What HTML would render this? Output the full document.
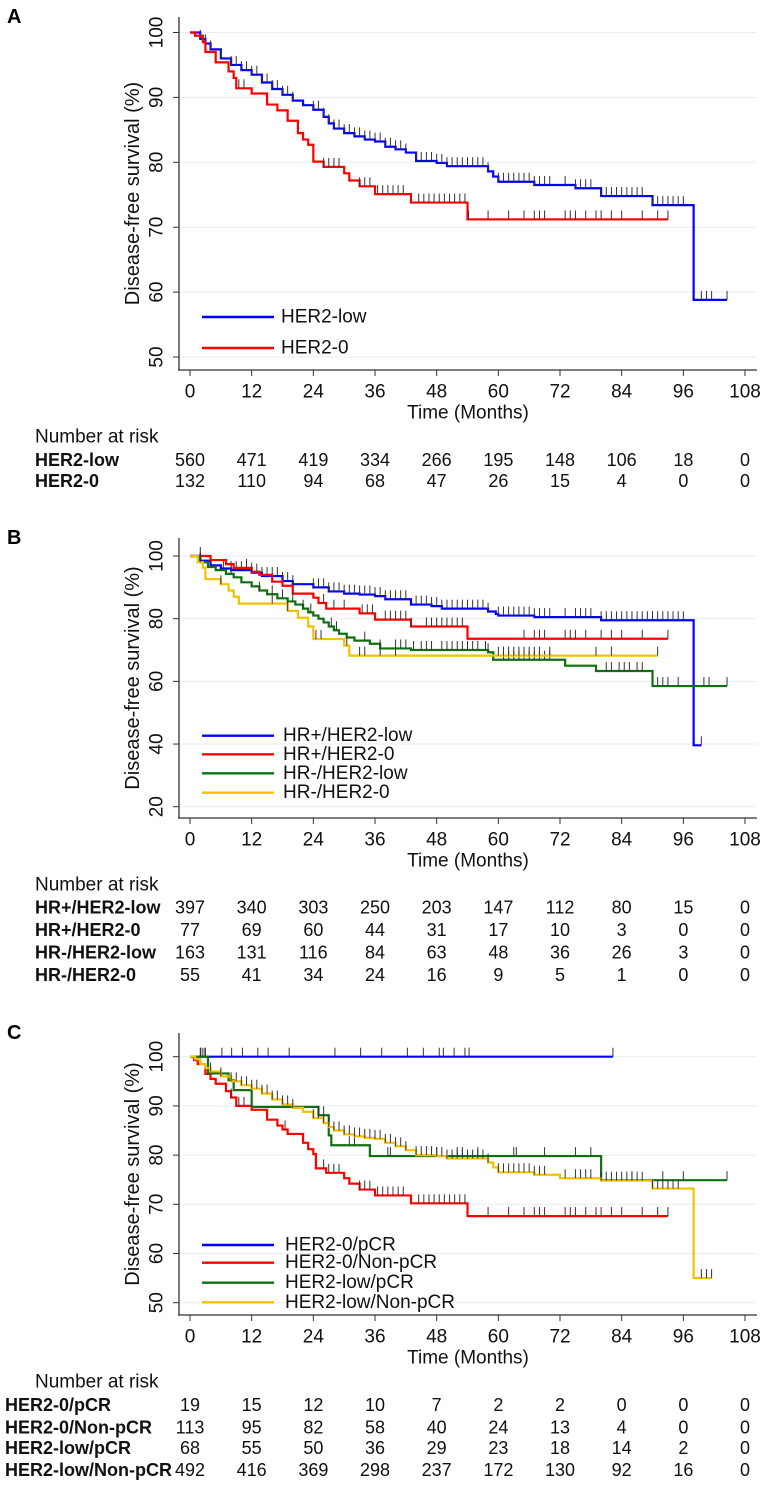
<!DOCTYPE html>
<html><head><meta charset="utf-8">
<style>
html,body{margin:0;padding:0;background:#fff;}
svg{display:block;font-family:"Liberation Sans",Arial,sans-serif;}
</style></head>
<body>
<svg id="fig" width="776" height="1488" viewBox="0 0 776 1488" xmlns="http://www.w3.org/2000/svg"></svg>
<script>
// ---------- Panel A data ----------
const aLowTimes=[0,2,3,4,6,8,10,12,14,16,18,20,22,24,26,27,28,30,32,34,36,38,40,42,44,48,50,58,59,60,67,75,80,90,98];
const aLowSurv=[100,99,98.3,97.4,96,95,94.2,93.5,92.3,91.3,90.4,89.5,88.8,88.1,87,86,85.2,84.5,84,83.5,83.2,82.4,82,81.5,80.2,79.9,79.4,78.6,77.8,77,76.5,76,74.8,73.4,58.8];
const aLowEnd=104.5;
const aLowCens=[2,3,4,6,8,9,10,11,12,13,14,15,16,17,18,19,20,24,25,26,27,28,29,30,31,32,33,34,35,36,37,38,39,40,41,42,44,45,46,47,48,49,50,51,52,53,54,55,56,57,58,60,61,62,63,64,65,66,67,68,69,70,73,75,76,77,78,80,81,82,83,84,85,86,87,88,90,91,92,93,94,95,96,99.5,100.5,101.5,104.5];
const aZeroTimes=[0,1,2.5,3,5,7.5,8.5,9,12,15,17,19,21,22,23,24,26,30,31,33,36,43,54];
const aZeroSurv=[100,99.5,98.5,97,95.4,94,93,91.4,90.6,88.9,88,86.4,84.5,83.5,82.7,80.1,79.3,78.3,77.2,76.3,75.1,73.8,71.2];
const aZeroEnd=93;
const aZeroCens=[9.5,10.5,26,27,28,29,33,34,35,36.5,37.5,38.5,39.5,40.5,41.5,44.5,45.5,46.5,47.5,48.5,49.5,50.5,51.5,52.5,53.5,54.2,58,62,65,67,68,69,73,74,75,77,79,80,82,84,88,91,93];
const aRiskLow=[560,471,419,334,266,195,148,106,18,0];
const aRiskZero=[132,110,94,68,47,26,15,4,0,0];

// ---------- Panel B data ----------
const bPlusLowTimes=[0,2,4,6,8,12,14,18,20,24,27,30,33,36,38,43,47,49,58,59.5,60,67,80,98];
const bPlusLowSurv=[100,98.5,97,96,95.5,94.7,93.6,92,91,90,88.7,88,87.7,87.2,86.2,84.5,84,83.2,82.3,81.5,81,80.5,79.5,39.6];
const bPlusLowEnd=99.5;
const bPlusLowCens=[2,8,9,10,11,13,14,15,16,17,18,19,20,24,25,26,27,28,29,30,31,32,33,34,35,36,37,38,39,40,41,42,44,45,46,47,48,49,50,51,52,53,54,55,56,57,58,60,61,62,63,64,65,66,67,68,69,70,73,75,76,77,78,80,81,82,83,84,85,86,87,88,89,90,91,92,93,94,95,96,99.5];
const bPlusZeroTimes=[0,4,7,8.5,12,13.5,16,18,20,24,25,26.5,33,36,43,54];
const bPlusZeroSurv=[100,98.7,97.4,96.2,95,94,91.8,90.5,88,86.7,85,83.2,81.7,79.7,77.5,73.6];
const bPlusZeroEnd=93;
const bPlusZeroCens=[2,11,12,26,28,30,33.5,34.5,35.5,38,39,40,41,42,43,46,47,48,49,50,51,52,53,65,67,68,69,73,74,75,77,80,82,84,88,93];
const bNegLowTimes=[0,2,3.5,5,7,8.5,10,12,13.5,15,17,19,20.5,22,23,24,25,26,27,28,29,30.5,32,35,37,43,58,59,73,79,90];
const bNegLowSurv=[100,98,96.5,95.5,94.3,93.2,91.6,90.3,89,87.8,86.5,85.5,84.5,83.2,82,81,80,78.8,77.5,76.3,75.2,74,73,72,70.5,70,69.3,66.9,65,63.3,58.5];
const bNegLowEnd=104.5;
const bNegLowCens=[2,6.5,8,13.5,16,18,20,22,23.5,27.5,28.5,34,37,40,41,42,43.5,45,46,47,49,50,51,52,53,54,55,56,57.5,58,61,62,63,64,65,66,67,68,69,70,81,82,83.5,84.5,85.5,87,88,91,92,93,95,100,101,104.5];
const bNegZeroTimes=[0,1.5,2.5,3,6,7.5,8.5,9.5,19,21,23,24,30,31];
const bNegZeroSurv=[100,98,96.3,92.6,91,89,87,84.8,82.5,80.3,77.5,73.5,71.4,68.2];
const bNegZeroEnd=91;
const bNegZeroCens=[2,6,16,19,24.5,25.5,30.5,33,34,37,40,60,61,62,63,64,65,66,67,68,70,79,82,91];
const bRisk1=[397,340,303,250,203,147,112,80,15,0];
const bRisk2=[77,69,60,44,31,17,10,3,0,0];
const bRisk3=[163,131,116,84,63,48,36,26,3,0];
const bRisk4=[55,41,34,24,16,9,5,1,0,0];

// ---------- Panel C data ----------
const c0pTimes=[0];
const c0pSurv=[100];
const c0pEnd=82.3;
const c0pCens=[2.1,2.9,6.2,8.1,10.2,13.2,15.2,19.3,28.2,33.2,37.3,42.3,45.4,48.5,49.3,51.4,53.5,54.3,82.3];
const c0nTimes=[0,0.8,1.5,3,4,5,7,8,9,12,15,17,18,19,22,23,24,24.5,26.5,30,31,33,36,43,54];
const c0nSurv=[100,99.3,98.5,96.5,95.5,94.5,93,91.7,90,89.2,87.2,86,85.2,84.3,82.5,81.2,80.2,77.3,76.4,75.3,74.2,73,71.8,70.2,67.6];
const c0nEnd=93;
const c0nCens=[8,9.5,10.5,18.5,26,27,28,29,33,34,35,36.5,37.5,38.5,39.5,40.5,41.5,44.5,45.5,46.5,47.5,48.5,49.5,50.5,51.5,52.5,53.5,58,62,65,67,68,69,73,74,75,77,79,80,82,84,88,91,93];
const clpTimes=[0,3.5,7.5,8.5,12,25,27,27.5,35,80];
const clpSurv=[100,96.6,95.2,93.2,89.8,88.1,84,82,79.8,74.9];
const clpEnd=104.5;
const clpCens=[2,2.5,3,25,26,31,32,38.5,39,47,48,52,53,56,63,63.5,69,75,78,86,92,96,104.5];
const clnTimes=[0,1,2,3,4,6,8,10,12,14,16,18,20,22,24,26,27,28,30,32,34,36,38,40,42,44,48,50,58,59,60,67,72,80,90,98];
const clnSurv=[100,99.5,98.5,97.7,97,96,95,94.2,93.5,92.5,91.3,90.3,89.6,88.8,87.5,86.5,85.7,85,84.2,83.8,83.5,83.3,82.5,81.8,81,80,79.8,79.3,78.5,77.5,76.5,76,75.3,74.8,73.2,55];
const clnEnd=101.5;
const clnCens=[4,6,8,9,10,11,12,13,14,15,16,17,18,19,20,24,25,26,27,28,29,30,31,32,33,34,35,36,37,38,39,40,41,42,44,45,46,47,48,49,50,51,52,53,54,55,56,57,58,60,61,62,63,64,65,66,67,68,69,73,75,76,77,78,80,81,82,83,84,85,86,87,88,90,91,92,93,94,95,99.5,100.5,101.5];
const cRisk1=[19,15,12,10,7,2,2,0,0,0];
const cRisk2=[113,95,82,58,40,24,13,4,0,0];
const cRisk3=[68,55,50,36,29,23,18,14,2,0];
const cRisk4=[492,416,369,298,237,172,130,92,16,0];

const xTicks=[0,12,24,36,48,60,72,84,96,108];

const NS='http://www.w3.org/2000/svg';
const svg=document.getElementById('fig');
function mk(tag,attrs,parent){const e=document.createElementNS(NS,tag);for(const k in attrs)e.setAttribute(k,attrs[k]);(parent||svg).appendChild(e);return e;}
const xScale=m=>190+m*5.139;
const BLUE='#0000ff',RED='#ff0000',GREEN='#107010',YEL='#f2c200';

function panel(cfg){
  const g=mk('g',{});
  
  
  const yS=v=>cfg.y100+(100-v)*cfg.pp;
  const L=mk('text',{x:7,y:cfg.top+6,'font-size':20,'font-weight':'bold',fill:'#000'},g);
  L.textContent=cfg.letter;
  
  
  cfg.yTicks.forEach(v=>{
    const y=yS(v);
    const gl=mk('line',{x1:179,x2:757,y1:y,y2:y,stroke:'#e6eef2','stroke-width':1},g);
    
    
    mk('line',{x1:173,x2:179,y1:y,y2:y,stroke:'#333','stroke-width':1},g);
    const t=mk('text',{x:0,y:0,'font-size':19,'text-anchor':'middle','dominant-baseline':'central',transform:`translate(157,${y}) rotate(-90)`,fill:'#111'},g);
    t.textContent=v;
    
    
  });
  const ya=mk('line',{x1:179,x2:179,y1:cfg.top,y2:cfg.bottom,stroke:'#333','stroke-width':1.3},g);
  
  
  const xa=mk('line',{x1:178,x2:757,y1:cfg.bottom,y2:cfg.bottom,stroke:'#333','stroke-width':1.3},g);
  
  
  xTicks.forEach(m=>{
    const x=xScale(m);
    mk('line',{x1:x,x2:x,y1:cfg.bottom,y2:cfg.bottom+6,stroke:'#333','stroke-width':1},g);
    const t=mk('text',{x:x,y:cfg.bottom+22,'font-size':19,'text-anchor':'middle','dominant-baseline':'central',fill:'#111'},g);
    t.textContent=m;
    
    
  });
  const yt=mk('text',{x:0,y:0,'font-size':20,'text-anchor':'middle','dominant-baseline':'central',transform:`translate(133,${(cfg.top+cfg.bottom)/2}) rotate(-90)`,fill:'#111'},g);
  yt.textContent='Disease-free survival (%)';
  
  
  const xt=mk('text',{x:468,y:cfg.bottom+43,'font-size':19,'text-anchor':'middle','dominant-baseline':'central',fill:'#111'},g);
  xt.textContent='Time (Months)';
  
  
  cfg.series.forEach(s=>{
    let d=`M${xScale(s.t[0])},${yS(s.s[0])}`;
    for(let i=1;i<s.t.length;i++){d+=`H${xScale(s.t[i])}V${yS(s.s[i])}`;}
    d+=`H${xScale(s.end)}`;
    const p=mk('path',{d:d,fill:'none',stroke:s.color,'stroke-width':2.2},g);
    
    
    s.c.forEach(ct=>{
      let v=s.s[0];
      for(let i=0;i<s.t.length;i++){if(s.t[i]<=ct)v=s.s[i];}
      const x=xScale(ct),y=yS(v);
      const m=mk('line',{x1:x,x2:x,y1:y,y2:y-9,stroke:'#333','stroke-width':1},g);
      
      
    });
  });
  cfg.series.forEach((s,i)=>{
    const y=cfg.legY[i];
    const ln=mk('line',{x1:202,x2:274,y1:y,y2:y,stroke:s.color,'stroke-width':2.4},g);
    
    
    const t=mk('text',{x:cfg.legX,y:y,'font-size':19,'dominant-baseline':'central',fill:'#111'},g);
    t.textContent=s.label;
    
    
  });
  const nb=cfg.bottom+67;
  const h=mk('text',{x:35,y:nb,'font-size':19,'dominant-baseline':'central',fill:'#111'},g);
  h.textContent='Number at risk';
  
  
  cfg.series.forEach((s,i)=>{
    const y=cfg.riskY[i];
    const lb=mk('text',{x:cfg.riskLabelX,y:y,'font-size':18,'font-weight':'bold','dominant-baseline':'central',fill:'#111'},g);
    lb.textContent=s.label;
    
    
    s.risk.forEach((n,j)=>{
      const t=mk('text',{x:xScale(xTicks[j]),y:y,'font-size':18,'text-anchor':'middle','dominant-baseline':'central',fill:'#111'},g);
      t.textContent=n;
      
      
    });
  });
}

panel({name:'panel-a',letter:'A',top:17,bottom:370,y100:32.5,pp:6.49,yTicks:[50,60,70,80,90,100],
  legX:281,legY:[317,348],riskLabelX:35,riskY:[460,481],
  series:[
    {id:'her2-low',label:'HER2-low',color:BLUE,t:aLowTimes,s:aLowSurv,end:aLowEnd,c:aLowCens,risk:aRiskLow},
    {id:'her2-0',label:'HER2-0',color:RED,t:aZeroTimes,s:aZeroSurv,end:aZeroEnd,c:aZeroCens,risk:aRiskZero}
  ]});
panel({name:'panel-b',letter:'B',top:538,bottom:818,y100:556,pp:3.134,yTicks:[20,40,60,80,100],
  legX:283,legY:[735.7,754.3,773.3,792.7],riskLabelX:35,riskY:[907.7,930,952.7,975],
  series:[
    {id:'hrpos-her2-low',label:'HR+/HER2-low',color:BLUE,t:bPlusLowTimes,s:bPlusLowSurv,end:bPlusLowEnd,c:bPlusLowCens,risk:bRisk1},
    {id:'hrpos-her2-0',label:'HR+/HER2-0',color:RED,t:bPlusZeroTimes,s:bPlusZeroSurv,end:bPlusZeroEnd,c:bPlusZeroCens,risk:bRisk2},
    {id:'hrneg-her2-low',label:'HR-/HER2-low',color:GREEN,t:bNegLowTimes,s:bNegLowSurv,end:bNegLowEnd,c:bNegLowCens,risk:bRisk3},
    {id:'hrneg-her2-0',label:'HR-/HER2-0',color:YEL,t:bNegZeroTimes,s:bNegZeroSurv,end:bNegZeroEnd,c:bNegZeroCens,risk:bRisk4}
  ]});
panel({name:'panel-c',letter:'C',top:1033,bottom:1315,y100:1056.7,pp:4.92,yTicks:[50,60,70,80,90,100],
  legX:285,legY:[1245,1262.7,1282.7,1302.3],riskLabelX:5,riskY:[1405,1427.7,1448,1470],
  series:[
    {id:'her2-0-pcr',label:'HER2-0/pCR',color:BLUE,t:c0pTimes,s:c0pSurv,end:c0pEnd,c:c0pCens,risk:cRisk1},
    {id:'her2-0-nonpcr',label:'HER2-0/Non-pCR',color:RED,t:c0nTimes,s:c0nSurv,end:c0nEnd,c:c0nCens,risk:cRisk2},
    {id:'her2-low-pcr',label:'HER2-low/pCR',color:GREEN,t:clpTimes,s:clpSurv,end:clpEnd,c:clpCens,risk:cRisk3},
    {id:'her2-low-nonpcr',label:'HER2-low/Non-pCR',color:YEL,t:clnTimes,s:clnSurv,end:clnEnd,c:clnCens,risk:cRisk4}
  ]});
</script>
</body></html>
